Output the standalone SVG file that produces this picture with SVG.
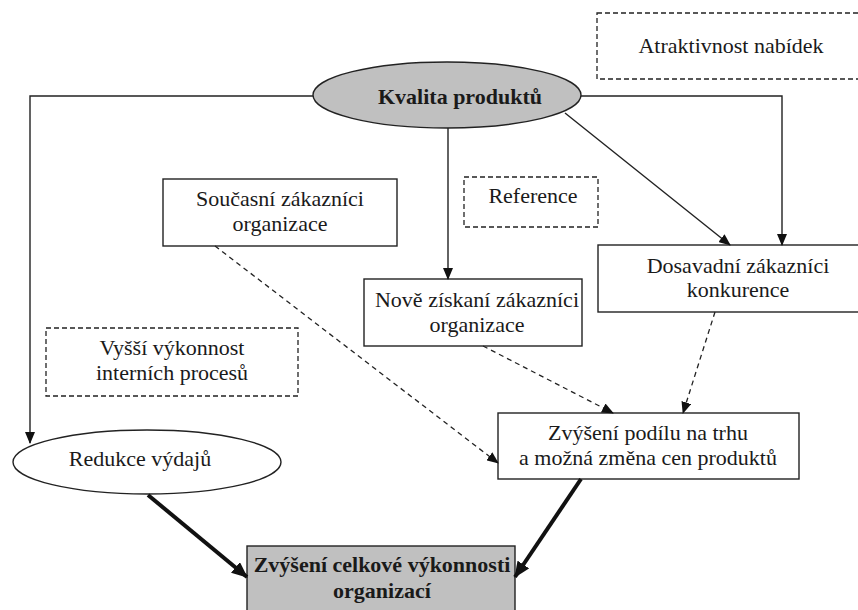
<svg xmlns="http://www.w3.org/2000/svg" width="858" height="610" viewBox="0 0 858 610">
<style>
  text { font-size: 22px; fill: #1a1a1a; text-anchor: middle; }
  .b { font-weight: bold; }
  .box { fill: #ffffff; stroke: #222; stroke-width: 1.4; }
  .dbox { fill: #ffffff; stroke: #222; stroke-width: 1.3; stroke-dasharray: 5 3; }
  .gray { fill: #c0c0c0; stroke: #222; stroke-width: 1.4; }
  .ln { fill: none; stroke: #222; stroke-width: 1.4; }
  .dl { fill: none; stroke: #222; stroke-width: 1.3; stroke-dasharray: 5 4; }
  .th { fill: none; stroke: #111; stroke-width: 4; }
</style>
<defs>
  <marker id="ah" markerUnits="userSpaceOnUse" markerWidth="12" markerHeight="10" refX="11" refY="5" orient="auto">
    <path d="M0,0 L12,5 L0,10 Z" fill="#111"/>
  </marker>
  <marker id="ahT" markerUnits="userSpaceOnUse" markerWidth="16" markerHeight="14" refX="15" refY="7" orient="auto">
    <path d="M0,0 L16,7 L0,14 Z" fill="#111"/>
  </marker>
</defs>
<rect width="858" height="610" fill="#ffffff"/>

<g font-family="'Liberation Serif', 'DejaVu Serif', serif">
<g id="atraktivnost">
  <rect class="dbox" x="597" y="13" width="275" height="66"/>
  <text x="731" y="53">Atraktivnost nabídek</text>
</g>
<g id="kvalita">
  <ellipse class="gray" cx="447" cy="95" rx="134" ry="33"/>
  <text class="b" x="460" y="104">Kvalita produktů</text>
</g>
<g id="soucasni">
  <rect class="box" x="163" y="179" width="234" height="67"/>
  <text x="280" y="206">Současní zákazníci</text>
  <text x="280" y="231">organizace</text>
</g>
<g id="reference">
  <rect class="dbox" x="464" y="177" width="134" height="50"/>
  <text x="533" y="203">Reference</text>
</g>
<g id="dosavadni">
  <rect class="box" x="598" y="245" width="280" height="67"/>
  <text x="738" y="273">Dosavadní zákazníci</text>
  <text x="738" y="297">konkurence</text>
</g>
<g id="nove">
  <rect class="box" x="364" y="279" width="218" height="67"/>
  <text x="477" y="307">Nově získaní zákazníci</text>
  <text x="477" y="332">organizace</text>
</g>
<g id="vyssi">
  <rect class="dbox" x="46" y="328" width="252" height="68"/>
  <text x="172" y="355">Vyšší výkonnost</text>
  <text x="172" y="380">interních procesů</text>
</g>
<g id="redukce">
  <ellipse class="box" cx="147" cy="462" rx="134" ry="32"/>
  <text x="140" y="466">Redukce výdajů</text>
</g>
<g id="podil">
  <rect class="box" x="498" y="413" width="301" height="66"/>
  <text x="648" y="440">Zvýšení podílu na trhu</text>
  <text x="648" y="465">a možná změna cen produktů</text>
</g>
<g id="celkova">
  <rect class="gray" x="247" y="546" width="268" height="80"/>
  <text class="b" x="382" y="572">Zvýšení celkové výkonnosti</text>
  <text class="b" x="382" y="598">organizací</text>
</g>
</g>

<g id="connectors">
  <path class="ln" d="M313,96 H30 V443" marker-end="url(#ah)"/>
  <path class="ln" d="M581,96 H782 V245" marker-end="url(#ah)"/>
  <path class="ln" d="M565,113 L730,245" marker-end="url(#ah)"/>
  <path class="ln" d="M448,128 V279" marker-end="url(#ah)"/>
  <path class="dl" d="M215,246 L498,463" marker-end="url(#ah)"/>
  <path class="dl" d="M483,346 L613,413" marker-end="url(#ah)"/>
  <path class="dl" d="M715,312 L683,413" marker-end="url(#ah)"/>
  <path class="th" d="M148,495 L247,577" marker-end="url(#ahT)"/>
  <path class="th" d="M581,479 L515,577" marker-end="url(#ahT)"/>
</g>
</svg>
